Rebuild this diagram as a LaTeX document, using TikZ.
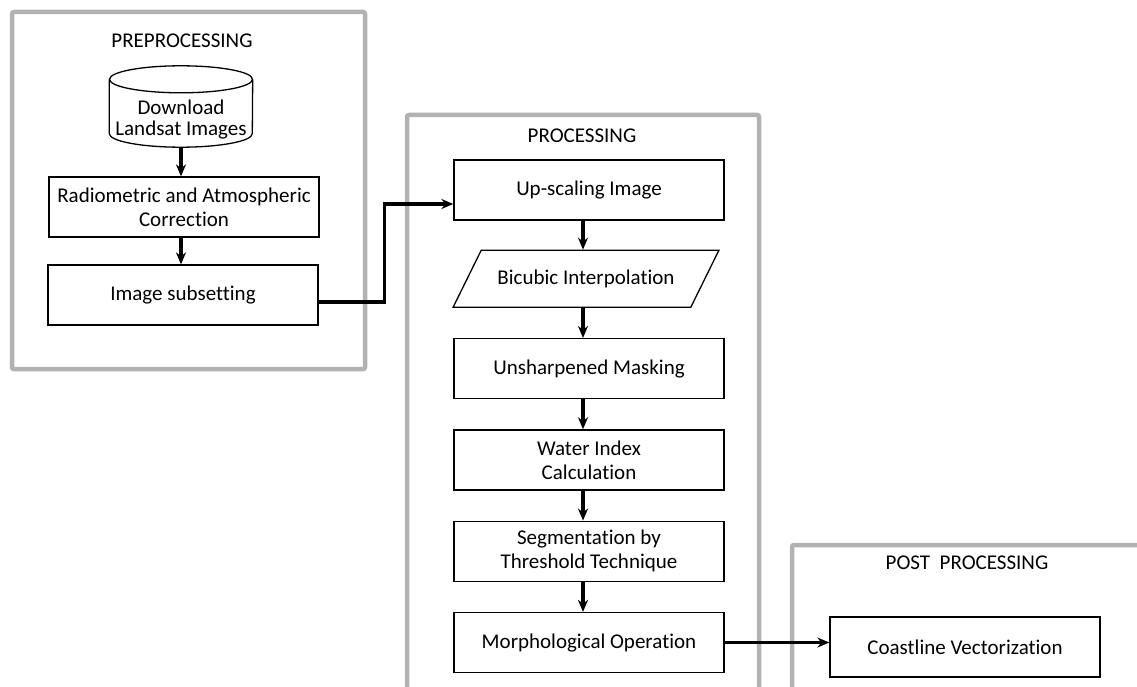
\documentclass[tikz,border=0pt]{standalone}
\usepackage{fontspec}
\setmainfont{Carlito}[Ligatures=NoCommon]
\usepackage{tikz}
\usetikzlibrary{arrows.meta,positioning,shapes.geometric}

\begin{document}
\begin{tikzpicture}[x=1pt, y=-1pt, node distance=30pt,
    every node/.style={font=\fontsize{21}{24}\selectfont},
    panel/.style={draw=gray!60, line width=4.5pt, rounded corners=2pt},
    outline/.style={draw, line width=1.3pt},
    block/.style={outline, minimum width=270pt, minimum height=60pt,
                  align=center, inner sep=2pt},
    store/.style={align=center, minimum width=143pt, minimum height=54pt, inner sep=0pt,
                  font=\fontsize{21}{21}\selectfont},
    data/.style={outline, trapezium, trapezium left angle=45,
                 trapezium right angle=135, trapezium stretches=true,
                 minimum width=266pt, minimum height=57pt},
    flow/.style={line width=3.6pt, -{Stealth[length=12pt,width=10pt]}}]
    \useasboundingbox (0,0) rectangle (1137,687);

    % panels
    \draw[panel] (12,12) rectangle (365,369);
    \draw[panel] (407,700) -- (407,115) -- (759,115) -- (759,700);
    \draw[panel] (792,700) -- (792,545) -- (1150,545);

    % preprocessing
    \node (pretitle) at (182,41) {PREPROCESSING};
    \node[store] (dl) at (181,120) {Download\\Landsat Images};
    \draw[outline] ([yshift=13.5pt]dl.north) ellipse [x radius=71.5pt, y radius=13.5pt];
    \draw[outline] ([yshift=13.5pt]dl.north west) -- ([yshift=13.5pt]dl.south west)
        arc [start angle=180, end angle=360, x radius=71.5pt, y radius=13.5pt]
        -- ([yshift=13.5pt]dl.north east);
    \node[block] (rad) at (184,207) {Radiometric and Atmospheric\\Correction};
    \node[block] (sub) at (183,295) {Image subsetting};

    \draw[flow] (dl.south) -- (dl.south |- rad.north);
    \draw[flow] (dl.south |- rad.south) -- (dl.south |- sub.north);

    % processing
    \node (protitle) at (582,136) {PROCESSING};
    \node[block] (up) at (589,190) {Up-scaling Image};
    \node[data, below=29pt of up, xshift=-3pt] (bic) {Bicubic Interpolation};
    \node[block, below=of bic, xshift=3pt] (uns) {Unsharpened Masking};
    \node[block, below=of uns] (wat) {Water Index\\Calculation};
    \node[block, below=of wat] (seg) {Segmentation by\\Threshold Technique};
    \node[block, below=of seg] (mor) {Morphological Operation};

    \coordinate (ax) at (583,0);
    \foreach \a/\b in {up/bic, bic/uns, uns/wat, wat/seg, seg/mor}
        \draw[flow] (\a.south -| ax) -- (\b.north -| ax);

    \draw[flow] ([yshift=-7pt]sub.east) -- ++(66,0) |- ([yshift=-14pt]up.west);

    % post processing
    \node (posttitle) at (967,563) {POST\ \ PROCESSING};
    \node[block] (coast) at (965,647) {Coastline Vectorization};

    \draw[flow] (mor.east) -- (coast.west |- mor.east);
\end{tikzpicture}
\end{document}
